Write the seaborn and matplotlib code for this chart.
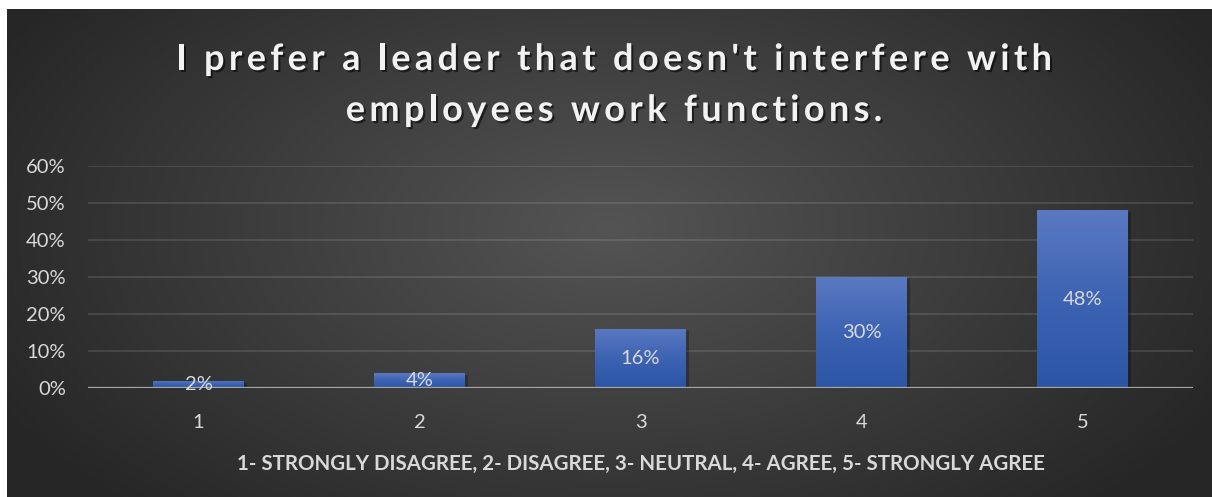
import numpy as np
import pandas as pd
import matplotlib
matplotlib.use("Agg")
import matplotlib.pyplot as plt
import matplotlib.patheffects as pe
from matplotlib.colors import LinearSegmentedColormap
from matplotlib.font_manager import FontProperties
import seaborn as sns

# --- data -------------------------------------------------------------
categories = ["1", "2", "3", "4", "5"]
percent = [2, 4, 16, 30, 48]
y_ticks = [0, 10, 20, 30, 40, 50, 60]
title_lines = ["I prefer a leader that doesn't interfere with",
               "employees work functions."]
x_title = "1- STRONGLY DISAGREE, 2- DISAGREE, 3- NEUTRAL, 4- AGREE, 5- STRONGLY AGREE"

W, H, DPI = 1212, 497, 100
TEXT = "#d9d9d9"

sns.set_theme(style="dark")
plt.rcParams["font.family"] = ["Lato", "DejaVu Sans"]

fig = plt.figure(figsize=(W / DPI, H / DPI), dpi=DPI, facecolor="white")

# dark radial backdrop panel
px0, py0 = 7, 9
bg = fig.add_axes([px0 / W, 0, (W - px0) / W, (H - py0) / H])
bg.set_axis_off()
gx = np.linspace(0, 1, 600)
gy = np.linspace(0, 1, 250)
GX, GY = np.meshgrid(gx, gy)
r = np.sqrt(((GX - 0.5) / 0.58) ** 2 + ((GY - 0.45) / 0.8) ** 2)
r = np.clip(r, 0, 1)
k = (1 - r) ** 1.0
shade = (0x54 * k + 0x26 * (1 - k)) / 255.0
bg.imshow(np.dstack([shade, shade, shade]), aspect="auto",
          extent=[0, 1, 0, 1], origin="upper")
bg.set_xlim(0, 1)
bg.set_ylim(0, 1)

# plot area
left, right = 88, 1193
top, bottom = 166, 388
ax = fig.add_axes([left / W, (H - bottom) / H, (right - left) / W, (bottom - top) / H])
ax.patch.set_alpha(0)

df = pd.DataFrame({"rating": categories, "pct": percent})
sns.barplot(data=df, x="rating", y="pct", width=0.41, color="#4472c4",
            linewidth=0, edgecolor="none", ax=ax, zorder=3)

ax.set_ylim(0, 60)
ax.set_xlim(-0.5, 4.5)
ax.set_yticks(y_ticks)
ax.set_yticklabels([f"{t}%" for t in y_ticks])
for s in ax.spines.values():
    s.set_visible(False)
ax.grid(axis="y", color="#ffffff", alpha=0.12, lw=1.3, zorder=0)
ax.grid(axis="x", visible=False)
ax.axhline(0, color="#a6a6a6", lw=1.6, zorder=4)
ax.tick_params(axis="both", length=0, colors=TEXT, labelsize=14.5)
ax.tick_params(axis="y", pad=16)
ax.tick_params(axis="x", pad=19)
ax.set_ylabel("")
ax.set_xlabel(x_title, color=TEXT, fontsize=14.8, fontweight="bold", labelpad=16)

# vertical blue gradient fill inside each bar, with a soft drop shadow
grad = LinearSegmentedColormap.from_list("barfill", ["#2c55a6", "#3d63b3", "#5a79c1"])
ramp = np.linspace(0, 1, 256).reshape(-1, 1)
for patch in ax.patches:
    patch.set_linewidth(0)
    patch.set_edgecolor("none")
    patch.set_path_effects([pe.SimplePatchShadow(offset=(2.5, -1.5), shadow_rgbFace="black", alpha=0.25),
                            pe.Normal()])
    x0, y0 = patch.get_x(), patch.get_y()
    w, h = patch.get_width(), patch.get_height()
    im = ax.imshow(ramp, cmap=grad, aspect="auto", origin="lower",
                   extent=[x0, x0 + w, y0, y0 + h], zorder=3.5)
    im.set_clip_path(patch)
ax.set_xlim(-0.5, 4.5)
ax.set_ylim(0, 60)

ax.bar_label(ax.containers[0], labels=[f"{v}%" for v in percent],
             label_type="center", color=TEXT, fontsize=14.5, zorder=6)

# title with wide letter tracking and a drop shadow
renderer = fig.canvas.get_renderer()
tprop = FontProperties(family=["Lato", "DejaVu Sans"], weight="bold", size=26)


def text_w(s):
    return renderer.get_text_width_height_descent(s, tprop, ismath=False)[0]


def advances(s):
    base = text_w("xx")
    return [text_w("x" + c + "x") - base for c in s]


line_spans = [(176, 1052), (343, 885)]
baselines = [70, 121]
adv0 = advances(title_lines[0])
tracking = (line_spans[0][1] - line_spans[0][0] - sum(adv0)) / (len(title_lines[0]) - 1)
shadow = [pe.SimplePatchShadow(offset=(1.5, -1.5), shadow_rgbFace="black", alpha=0.55),
          pe.Normal()]
center = (line_spans[0][0] + line_spans[0][1]) / 2
for line, base_y in zip(title_lines, baselines):
    adv = advances(line)
    total = sum(adv) + tracking * (len(line) - 1)
    x = center - total / 2
    for c, a in zip(line, adv):
        if c != " ":
            fig.text(x / W, (H - base_y) / H, c, fontproperties=tprop,
                     color="#f2f2f2", ha="left", va="baseline",
                     path_effects=shadow)
        x += a + tracking

fig.savefig("out.png", dpi=DPI, facecolor="white")
